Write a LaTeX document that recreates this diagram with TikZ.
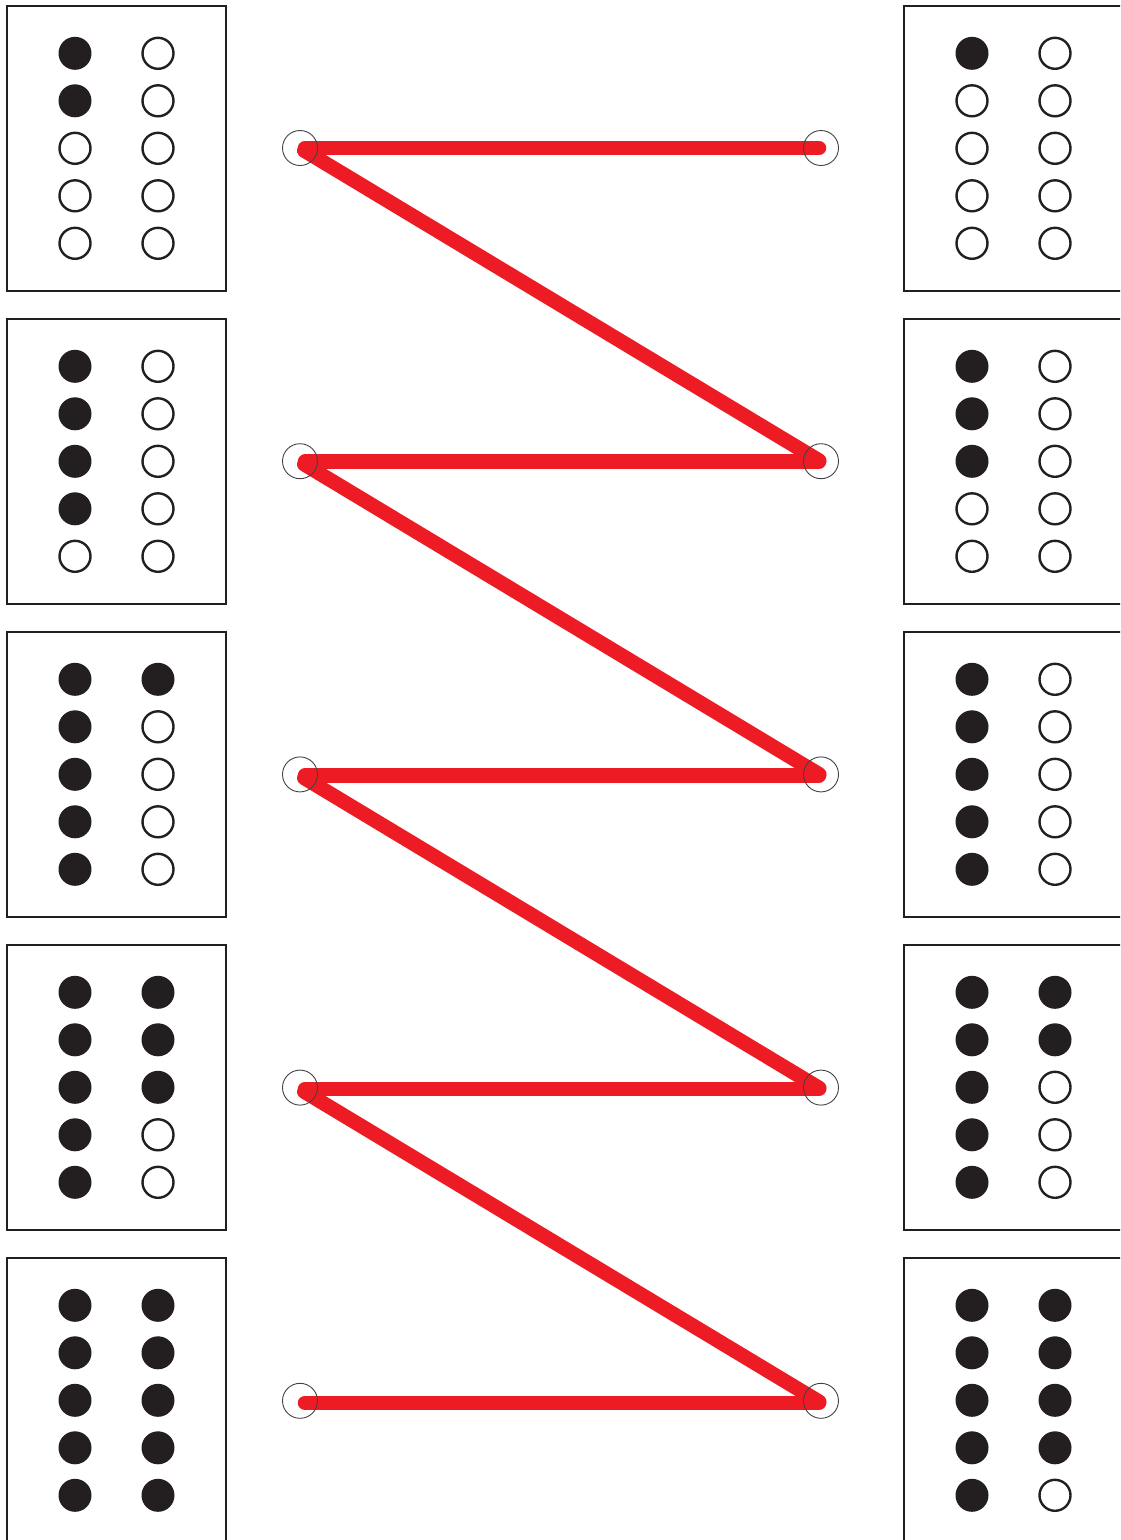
\documentclass[tikz,border=0pt]{standalone}
\usetikzlibrary{backgrounds}
\definecolor{redl}{HTML}{ED1C24}
\definecolor{ink}{HTML}{231F20}
\tikzset{
  panel/.style={draw=ink, line width=2.8pt},
  filldot/.style={fill=ink},
  opendot/.style={draw=ink, line width=2.4pt, fill=white},
  port/.style={circle, draw=ink!85, line width=0.9pt, minimum size=35pt, inner sep=0pt},
  link/.style={draw=redl, line width=14.5pt, line cap=round, shorten <=5pt, shorten >=2pt}
}
\begin{document}
\begin{tikzpicture}[x=1pt,y=-1pt]
\useasboundingbox (0,0) rectangle (1120,1540);
\begin{scope}
\clip (0,0) rectangle (1120,1540);
% left panels
\foreach \i/\a/\b in {0/2/0,1/4/0,2/5/1,3/5/3,4/5/5}{
  \pgfmathsetmacro{\yo}{6+313*\i}
  \draw[panel] (7,\yo) rectangle (226,\yo+285);
  \foreach \k in {1,...,5}{
    \pgfmathsetmacro{\yy}{\yo+47.3+47.5*(\k-1)}
    \ifnum\k>\a \draw[opendot] (75,\yy) circle (15.5);\else \fill[filldot] (75,\yy) circle (16.5);\fi
    \ifnum\k>\b \draw[opendot] (158,\yy) circle (15.5);\else \fill[filldot] (158,\yy) circle (16.5);\fi
  }
}
% right panels
\foreach \i/\a/\b in {0/1/0,1/3/0,2/5/0,3/5/2,4/5/4}{
  \pgfmathsetmacro{\yo}{6+313*\i}
  \draw[panel] (904,\yo) rectangle (1135,\yo+285);
  \foreach \k in {1,...,5}{
    \pgfmathsetmacro{\yy}{\yo+47.3+47.5*(\k-1)}
    \ifnum\k>\a \draw[opendot] (972,\yy) circle (15.5);\else \fill[filldot] (972,\yy) circle (16.5);\fi
    \ifnum\k>\b \draw[opendot] (1055,\yy) circle (15.5);\else \fill[filldot] (1055,\yy) circle (16.5);\fi
  }
}
\end{scope}
% ports
\foreach \i in {1,...,5}{
  \pgfmathsetmacro{\yp}{148+313.2*(\i-1)}
  \node[port] (L\i) at (300,\yp) {};
  \node[port] (R\i) at (821,\yp) {};
}
\begin{pgfonlayer}{background}
\foreach \i in {1,...,5}{
  \pgfmathsetmacro{\dy}{0.5*(\i-1)}
  \draw[link] ([yshift=-\dy pt]L\i.center) -- ([yshift=-\dy pt]R\i.center);
}
\foreach \i/\j in {1/2,2/3,3/4,4/5}{
  \pgfmathsetmacro{\dy}{0.5*(\i-1)}
  \pgfmathsetmacro{\dz}{0.5*(\j-1)}
  \draw[link] ([yshift=-\dy pt]L\i.center) -- ([yshift=-\dz pt]R\j.center);
}
\end{pgfonlayer}
\end{tikzpicture}
\end{document}
